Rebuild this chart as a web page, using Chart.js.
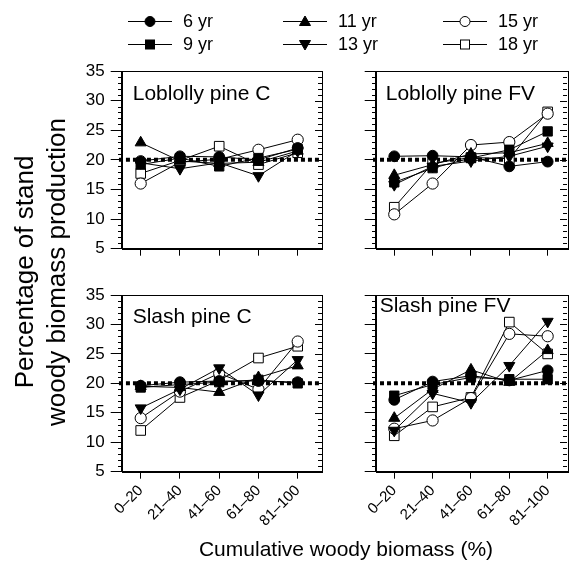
<!DOCTYPE html>
<html>
<head>
<meta charset="utf-8">
<script src="https://cdn.jsdelivr.net/npm/chart.js@4.4.1/dist/chart.umd.min.js"></script>
<style>
  body { margin: 0; background: #fff; font-family: "Liberation Sans", Arial, sans-serif; }
  #wrap { position: relative; width: 575px; height: 563px; overflow: hidden; background: #fff; }
  #wrap canvas { position: absolute; left: 0; top: 0; }
  .leg { position: absolute; display: flex; align-items: center; font-size: 18px; color: #000; height: 20px; }
  .leg svg { margin-right: 11px; }
  #ytitle { position: absolute; left: 40px; top: 272px; width: 440px; transform: translate(-50%, -50%) rotate(-90deg);
            text-align: center; font-size: 26px; line-height: 32px; color: #000; white-space: nowrap; }
  #xtitle { position: absolute; left: 346px; top: 537px; transform: translateX(-50%); font-size: 21px; color: #000; white-space: nowrap; }
</style>
</head>
<body>
<div id="wrap">
  <canvas id="c0" width="575" height="563"></canvas>
  <canvas id="c1" width="575" height="563"></canvas>
  <canvas id="c2" width="575" height="563"></canvas>
  <canvas id="c3" width="575" height="563"></canvas>
  <div id="legenda"></div>
  <div id="ytitle">Percentage of stand<br>woody biomass production</div>
  <div id="xtitle">Cumulative woody biomass (%)</div>
</div>
<script>
// categorias do eixo x e idades dos povoamentos
const categorias = ['0–20', '21–40', '41–60', '61–80', '81–100']
const idades = ['6 yr', '9 yr', '11 yr', '13 yr', '15 yr', '18 yr']
const titulos = ['Loblolly pine C', 'Loblolly pine FV', 'Slash pine C', 'Slash pine FV']
const ticksY = [5, 10, 15, 20, 25, 30, 35]
const referencia = 20

// uma linha por idade, na ordem de "idades"
const loblollyC = [
  [19.8, 20.6, 20.5, 20.0, 22.0],
  [19.2, 20.3, 18.9, 20.3, 21.8],
  [22.9, 19.8, 19.4, 19.6, 21.5],
  [19.5, 18.5, 19.5, 17.3, 21.5],
  [16.0, 19.6, 20.1, 21.7, 23.4],
  [17.7, 19.9, 22.3, 19.2, 21.2]
]
const loblollyFV = [
  [20.6, 20.7, 20.5, 18.9, 19.7],
  [16.2, 18.6, 20.3, 21.7, 24.8],
  [17.4, 19.2, 21.0, 21.2, 22.8],
  [15.8, 18.9, 19.8, 20.6, 22.3],
  [10.8, 16.0, 22.5, 23.0, 27.8],
  [12.0, 19.4, 20.4, 20.2, 28.1]
]
const slashC = [
  [19.6, 20.2, 20.4, 20.4, 20.2],
  [19.3, 19.8, 20.2, 20.6, 20.0],
  [19.5, 19.3, 18.5, 21.0, 23.0],
  [15.8, 19.0, 22.6, 18.0, 24.0],
  [14.1, 18.6, 21.7, 19.0, 27.1],
  [12.0, 17.6, 20.5, 24.3, 26.3]
]
const slashFV = [
  [17.2, 20.3, 21.3, 20.5, 22.2],
  [17.9, 19.8, 21.0, 20.7, 20.7],
  [14.1, 19.0, 22.3, 20.2, 25.6],
  [12.0, 18.3, 16.7, 23.0, 30.5],
  [12.3, 13.7, 17.5, 28.4, 28.0],
  [11.1, 16.0, 17.6, 30.4, 25.0]
]

const fonte = '"Liberation Sans", Arial, sans-serif'

const estilos = [
  {forma: 'circle', raio: 5.4, cheio: true, rot: 0},
  {forma: 'rect', raio: 6.6, cheio: true, rot: 0},
  {forma: 'triangle', raio: 6.4, cheio: true, rot: 0},
  {forma: 'triangle', raio: 6.4, cheio: true, rot: 180},
  {forma: 'circle', raio: 5.6, cheio: false, rot: 0},
  {forma: 'rect', raio: 6.8, cheio: false, rot: 0}
]

const paineis = [
  {id: 'c0', dados: loblollyC, titulo: titulos[0], L: 121.7, T: 71, R: 321.7, B: 248.7, rotY: true, rotX: false, dx: 11, dy: 29},
  {id: 'c1', dados: loblollyFV, titulo: titulos[1], L: 375.7, T: 71, R: 571.7, B: 248.7, rotY: false, rotX: false, dx: 10, dy: 29},
  {id: 'c2', dados: slashC, titulo: titulos[2], L: 121.7, T: 295, R: 321.7, B: 471.7, rotY: true, rotX: true, dx: 11, dy: 28},
  {id: 'c3', dados: slashFV, titulo: titulos[3], L: 375.7, T: 295, R: 571.7, B: 471.7, rotY: false, rotX: true, dx: 4, dy: 17}
]

const larguraY = 45
const alturaX = 60
const passoX = 39.25

const moldura = {
  id: 'moldura',
  afterDraw(chart) {
    const ctx = chart.ctx
    const a = chart.chartArea
    const y = chart.scales.y
    const cfg = chart.options.plugins.moldura
    ctx.save()
    ctx.strokeStyle = '#000'
    ctx.lineWidth = 1
    ctx.strokeRect(Math.round(a.left) + 0.5, Math.round(a.top) + 0.5, Math.round(a.right - a.left), Math.round(a.bottom - a.top))
    ctx.beginPath()
    for (let v = ticksY[0]; v <= ticksY[ticksY.length - 1]; v++) {
      const py = Math.round(y.getPixelForValue(v)) + 0.5
      const maior = v % 5 === 0
      if (!maior) {
        ctx.moveTo(Math.round(a.left) - 4, py)
        ctx.lineTo(Math.round(a.left), py)
      }
      ctx.moveTo(Math.round(a.right) - (maior ? 7 : 4), py)
      ctx.lineTo(Math.round(a.right), py)
    }
    ctx.stroke()
    ctx.fillStyle = '#000'
    ctx.font = '21px ' + fonte
    ctx.textBaseline = 'alphabetic'
    ctx.fillText(cfg.texto, a.left + cfg.dx, a.top + cfg.dy)
    ctx.restore()
  }
}

paineis.forEach((p) => {
  const xMin = -19 / passoX
  const xMax = xMin + (p.R - p.L) / passoX

  const datasets = p.dados.map((serie, i) => {
    const e = estilos[i]
    return {
      label: idades[i],
      data: serie.map((v, j) => ({x: j, y: v})),
      borderColor: '#000',
      borderWidth: 1,
      pointStyle: e.forma,
      pointRadius: e.raio,
      pointRotation: e.rot,
      pointBackgroundColor: e.cheio ? '#000' : '#fff',
      pointBorderColor: '#000',
      pointBorderWidth: 1,
      order: i
    }
  })
  datasets.push({
    label: 'ref',
    data: [{x: xMin - 0.07, y: referencia}, {x: xMax, y: referencia}],
    borderColor: '#000',
    borderWidth: 4,
    borderDash: [4, 3],
    borderCapStyle: 'butt',
    pointRadius: 0,
    clip: false,
    order: 20
  })

  new Chart(document.getElementById(p.id), {
    type: 'line',
    data: {datasets: datasets},
    plugins: [moldura],
    options: {
      responsive: false,
      animation: false,
      events: [],
      layout: {
        padding: {left: p.L - larguraY, top: p.T, right: 575 - p.R, bottom: 563 - p.B - alturaX}
      },
      plugins: {
        legend: {display: false},
        tooltip: {enabled: false},
        moldura: {texto: p.titulo, dx: p.dx, dy: p.dy}
      },
      scales: {
        x: {
          type: 'linear',
          min: xMin,
          max: xMax,
          afterBuildTicks: (s) => { s.ticks = categorias.map((c, j) => ({value: j})) },
          afterFit: (s) => { s.height = alturaX },
          grid: {drawOnChartArea: false, drawTicks: true, tickLength: 7, color: '#000'},
          border: {display: true, color: '#000', width: 1},
          ticks: {
            autoSkip: false,
            minRotation: 45,
            maxRotation: 45,
            padding: 3,
            color: '#000',
            font: {family: fonte, size: 15},
            callback: (v) => p.rotX ? categorias[v] : ''
          }
        },
        y: {
          min: 5,
          max: 35,
          afterBuildTicks: (s) => { s.ticks = ticksY.map((v) => ({value: v})) },
          afterFit: (s) => { s.width = larguraY },
          grid: {drawOnChartArea: false, drawTicks: true, tickLength: 11, color: '#000'},
          border: {display: true, color: '#000', width: 1},
          ticks: {
            padding: 6,
            color: '#000',
            font: {family: fonte, size: 17},
            callback: (v) => p.rotY ? String(v) : ''
          }
        }
      }
    }
  })
})

// legenda em tres colunas
function marcador(e) {
  const fill = e.cheio ? '#000' : '#fff'
  let m = ''
  if (e.forma === 'circle') {
    m = `<circle cx="22" cy="8.5" r="5" fill="${fill}" stroke="#000" stroke-width="1"/>`
  } else if (e.forma === 'rect') {
    m = `<rect x="17.5" y="4" width="9" height="9" fill="${fill}" stroke="#000" stroke-width="1"/>`
  } else if (e.rot === 0) {
    m = `<polygon points="22,3 27.5,12.5 16.5,12.5" fill="${fill}" stroke="#000" stroke-width="1"/>`
  } else {
    m = `<polygon points="22,14 27.5,4.5 16.5,4.5" fill="${fill}" stroke="#000" stroke-width="1"/>`
  }
  return `<svg width="44" height="17"><line x1="0" y1="8.5" x2="44" y2="8.5" stroke="#000" stroke-width="1"/>${m}</svg>`
}

const colunasX = [128, 283, 443]
const linhasY = [21, 44]
const legenda = document.getElementById('legenda')
idades.forEach((idade, i) => {
  const col = Math.floor(i / 2)
  const lin = i % 2
  const d = document.createElement('div')
  d.className = 'leg'
  d.style.left = colunasX[col] + 'px'
  d.style.top = (linhasY[lin] - 10) + 'px'
  d.innerHTML = marcador(estilos[i]) + '<span>' + idade + '</span>'
  legenda.appendChild(d)
})
</script>
</body>
</html>
